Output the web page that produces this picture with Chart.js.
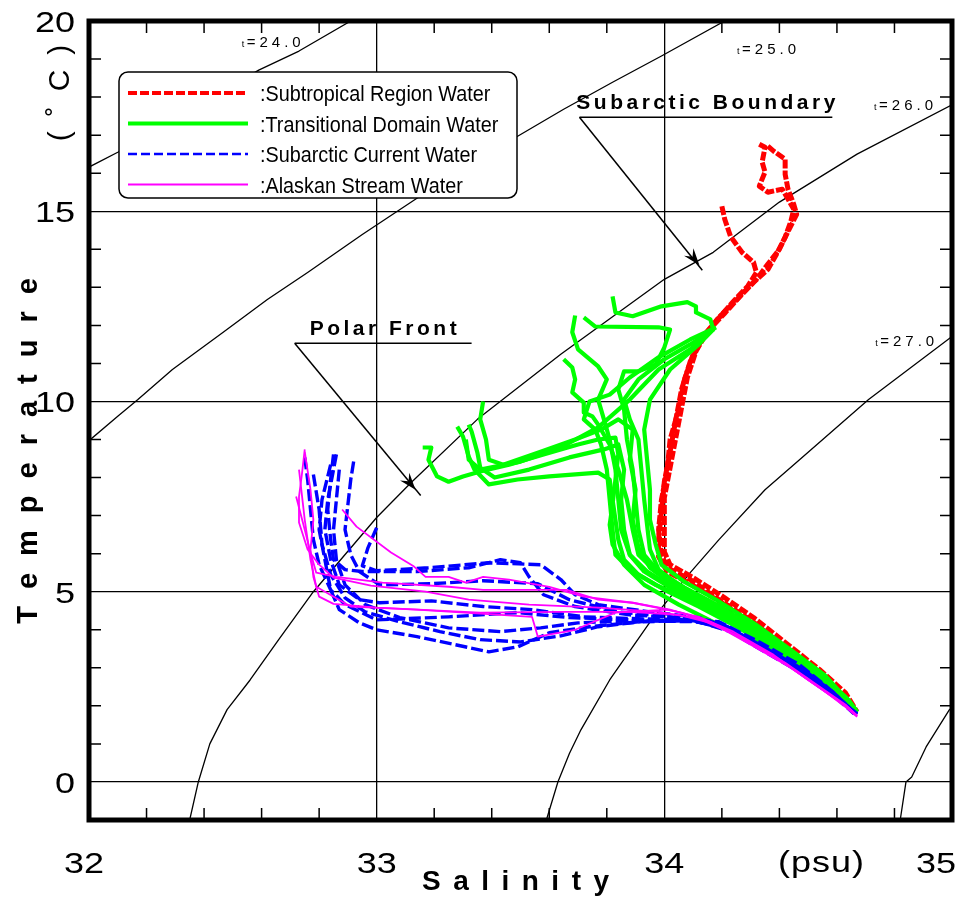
<!DOCTYPE html>
<html>
<head>
<meta charset="utf-8">
<title>T-S diagram</title>
<script src="https://cdn.jsdelivr.net/npm/chart.js@4.4.1/dist/chart.umd.min.js"></script>
<style>
  body { margin: 0; background: #fff; }
  canvas { display: block; }
</style>
</head>
<body>
<canvas id="ts" width="962" height="900"></canvas>
<script>
const FONT = "'Liberation Sans', Arial, sans-serif";

// axis ranges and labelled ticks
const salinityRange = [32, 35];
const tempRange = [-1, 20];
const salinityLabels = [32, 33, 34, 35];
const tempLabels = [0, 5, 10, 15, 20];

// each cast is a list of [salinity (psu), temperature (degC)]
const subtropical1 = [[34.33,16.76],[34.35,16.68],[34.34,16.29],[34.35,16.03],[34.33,15.66],[34.36,15.50],[34.41,15.58],[34.43,15.32],[34.45,15.05],[34.44,14.74],[34.42,14.32],[34.39,13.87],[34.36,13.47],[34.31,13.13],[34.26,12.74],[34.19,12.21],[34.14,11.76],[34.10,11.24],[34.07,10.58],[34.05,9.79],[34.02,9.00],[34.01,8.21],[33.99,7.42],[33.98,6.63],[33.99,5.97],[34.01,5.63],[34.09,5.32],[34.19,4.79],[34.30,4.26],[34.42,3.53],[34.52,2.89],[34.61,2.29],[34.67,1.84]];
const subtropical2 = [[34.36,16.71],[34.38,16.58],[34.42,16.37],[34.42,15.97],[34.43,15.58],[34.45,15.18],[34.46,14.92],[34.43,14.47],[34.40,14.00],[34.36,13.61],[34.32,13.21],[34.27,12.82],[34.21,12.32],[34.15,11.84],[34.11,11.32],[34.08,10.63],[34.06,9.84],[34.04,9.05],[34.02,8.26],[34.00,7.47],[34.00,6.68],[34.00,6.05],[34.02,5.71],[34.10,5.37],[34.21,4.84],[34.31,4.32],[34.43,3.61],[34.54,2.95],[34.63,2.34],[34.67,1.84]];
const subtropical3 = [[34.20,15.13],[34.21,14.79],[34.23,14.34],[34.27,13.92],[34.31,13.66],[34.32,13.39],[34.29,13.03],[34.24,12.63],[34.18,12.11],[34.13,11.63],[34.09,11.05],[34.06,10.32],[34.04,9.53],[34.02,8.68],[34.00,7.89],[33.99,7.11],[33.98,6.37],[33.98,5.92],[34.01,5.53],[34.09,5.21],[34.20,4.71],[34.30,4.18],[34.42,3.47],[34.52,2.82],[34.62,2.24],[34.66,1.82]];

const transitional1 = [[33.16,8.79],[33.19,8.79],[33.18,8.47],[33.21,8.03],[33.25,7.89],[33.30,8.03],[33.36,8.16],[33.46,8.34],[33.58,8.61],[33.70,8.87],[33.77,9.00],[33.83,9.05],[33.84,8.61],[33.83,7.95],[33.82,7.29],[33.81,6.76],[33.82,6.24],[33.86,5.71],[33.93,5.18],[34.05,4.66],[34.19,4.13],[34.33,3.61],[34.47,2.95],[34.57,2.42],[34.67,1.84]];
const transitional2 = [[33.28,9.34],[33.30,9.08],[33.32,8.55],[33.34,8.21],[33.39,7.82],[33.49,7.95],[33.60,8.03],[33.77,8.13],[33.81,7.95],[33.82,7.42],[33.83,6.89],[33.84,6.37],[33.86,5.84],[33.91,5.45],[34.00,5.05],[34.12,4.61],[34.26,4.05],[34.40,3.39],[34.52,2.74],[34.61,2.21],[34.67,1.84]];
const transitional3 = [[33.32,9.39],[33.33,9.21],[33.35,8.66],[33.36,8.26],[33.41,8.00],[33.53,8.21],[33.67,8.53],[33.79,8.74],[33.84,8.87],[33.86,8.21],[33.85,7.42],[33.86,6.63],[33.88,5.97],[33.93,5.53],[34.02,5.11],[34.14,4.66],[34.28,4.05],[34.42,3.34],[34.53,2.68],[34.62,2.18],[34.67,1.84]];
const transitional4 = [[33.37,10.00],[33.36,9.53],[33.38,9.00],[33.39,8.47],[33.44,8.34],[33.57,8.68],[33.69,9.00],[33.78,9.26],[33.84,9.53],[33.89,9.26],[33.88,8.47],[33.90,7.68],[33.89,6.89],[33.91,6.16],[33.95,5.63],[34.03,5.18],[34.16,4.71],[34.30,4.13],[34.43,3.47],[34.54,2.82],[34.63,2.24],[34.67,1.84]];
const transitional5 = [[33.69,12.26],[33.68,11.82],[33.70,11.37],[33.77,10.92],[33.80,10.58],[33.77,10.05],[33.79,9.53],[33.81,9.00],[33.83,8.21],[33.84,7.42],[33.85,6.63],[33.88,5.97],[33.94,5.53],[34.03,5.11],[34.16,4.63],[34.30,4.05],[34.43,3.39],[34.54,2.76],[34.62,2.21],[34.67,1.84]];
const transitional6 = [[33.82,12.76],[33.83,12.34],[33.89,12.24],[33.99,12.50],[34.08,12.61],[34.11,12.50],[34.11,12.34],[34.16,12.16],[34.17,11.89],[34.09,11.50],[34.00,11.11],[33.91,10.58],[33.86,10.05],[33.88,9.53],[33.91,9.00],[33.92,8.21],[33.93,7.42],[33.94,6.76],[33.95,6.11],[33.98,5.58],[34.05,5.18],[34.16,4.71],[34.30,4.13],[34.43,3.42],[34.55,2.76],[34.63,2.21],[34.67,1.84]];
const transitional7 = [[33.72,12.21],[33.76,11.97],[33.98,11.95],[34.02,11.89],[34.00,11.42],[33.97,10.97],[33.91,10.79],[33.86,10.79],[33.84,10.32],[33.86,9.79],[33.87,9.00],[33.89,8.21],[33.90,7.42],[33.91,6.63],[33.93,5.97],[33.98,5.53],[34.07,5.11],[34.19,4.63],[34.32,4.00],[34.45,3.34],[34.56,2.68],[34.64,2.16],[34.67,1.84]];
const transitional8 = [[34.18,11.95],[34.09,11.63],[33.98,11.16],[33.88,10.63],[33.81,10.18],[33.74,10.00],[33.72,9.53],[33.76,9.26],[33.78,8.87],[33.80,8.21],[33.81,7.42],[33.82,6.63],[33.83,5.97],[33.88,5.58],[33.97,5.18],[34.09,4.79],[34.23,4.26],[34.36,3.61],[34.50,2.95],[34.59,2.37],[34.67,1.84]];
const transitional9 = [[33.65,11.11],[33.68,10.89],[33.69,10.58],[33.68,10.24],[33.72,9.97],[33.72,9.71],[33.75,9.61],[33.77,9.39],[33.81,8.87],[33.84,8.21],[33.87,7.42],[33.89,6.63],[33.91,5.97],[33.97,5.53],[34.05,5.13],[34.17,4.66],[34.30,4.08],[34.43,3.42],[34.55,2.76],[34.63,2.21],[34.67,1.84]];
const transitional10 = [[33.31,9.00],[33.32,8.47],[33.36,8.21],[33.50,8.42],[33.64,8.79],[33.77,9.32],[33.88,10.05],[33.98,10.84],[34.09,11.37],[34.17,11.89],[34.12,11.50],[34.02,10.84],[33.95,10.05],[33.93,9.26],[33.94,8.47],[33.95,7.68],[33.95,6.89],[33.97,6.24],[33.99,5.71],[34.07,5.26],[34.18,4.79],[34.31,4.18],[34.44,3.47],[34.56,2.79],[34.63,2.21],[34.67,1.84]];

const subarcticCurrent1 = [[32.85,8.61],[32.84,7.95],[32.83,7.16],[32.84,6.37],[32.85,5.84],[32.89,5.58],[32.95,5.53],[33.14,5.53],[33.32,5.63],[33.43,5.84],[33.50,5.76],[33.53,5.39],[33.58,4.92],[33.69,4.61],[33.88,4.39],[34.05,4.32],[34.19,4.21],[34.33,3.68],[34.47,3.08],[34.57,2.47],[34.66,1.84]];
const subarcticCurrent2 = [[32.92,8.42],[32.91,7.95],[32.90,7.29],[32.89,6.63],[32.91,5.97],[32.94,5.53],[33.01,5.18],[33.19,5.21],[33.37,5.29],[33.56,5.21],[33.67,4.79],[33.84,4.47],[34.05,4.32],[34.19,4.16],[34.33,3.61],[34.47,3.00],[34.57,2.42],[34.66,1.82]];
const subarcticCurrent3 = [[32.86,8.61],[32.85,8.21],[32.83,7.42],[32.82,6.63],[32.84,5.84],[32.87,5.18],[32.94,4.79],[33.01,4.71],[33.19,4.76],[33.37,4.61],[33.54,4.53],[33.72,4.34],[33.91,4.29],[34.09,4.26],[34.21,4.11],[34.34,3.55],[34.48,2.95],[34.58,2.37],[34.66,1.82]];
const subarcticCurrent4 = [[32.75,8.53],[32.76,7.95],[32.77,7.16],[32.78,6.37],[32.80,5.71],[32.84,5.05],[32.89,4.66],[33.00,4.26],[33.25,4.34],[33.49,4.45],[33.67,4.32],[33.88,4.26],[34.09,4.24],[34.21,4.05],[34.35,3.47],[34.49,2.87],[34.58,2.32],[34.66,1.79]];
const subarcticCurrent5 = [[32.84,8.34],[32.81,7.42],[32.80,6.63],[32.82,5.84],[32.84,5.05],[32.87,4.53],[32.94,4.18],[33.00,4.00],[33.14,3.82],[33.39,3.42],[33.49,3.55],[33.60,3.92],[33.74,4.08],[33.91,4.21],[34.10,4.24],[34.22,4.00],[34.36,3.42],[34.50,2.82],[34.59,2.26],[34.67,1.79]];
const subarcticCurrent6 = [[32.87,8.21],[32.86,7.42],[32.85,6.63],[32.86,5.84],[32.89,5.18],[32.96,4.66],[33.08,4.32],[33.25,4.05],[33.43,3.95],[33.57,4.05],[33.70,4.18],[33.88,4.24],[34.12,4.21],[34.23,3.95],[34.36,3.37],[34.50,2.76],[34.60,2.24],[34.67,1.76]];
const subarcticCurrent7 = [[33.00,6.68],[32.97,6.16],[32.95,5.68],[33.00,5.55],[33.18,5.63],[33.39,5.76],[33.57,5.71],[33.64,5.32],[33.69,4.92],[33.77,4.66],[33.95,4.47],[34.12,4.32],[34.22,4.08],[34.35,3.53],[34.49,2.92],[34.59,2.34],[34.66,1.82]];
const subarcticCurrent8 = [[32.78,8.08],[32.80,7.16],[32.81,6.24],[32.84,5.45],[32.89,4.84],[32.96,4.47],[33.08,4.21],[33.22,3.95],[33.36,3.74],[33.50,3.68],[33.64,3.84],[33.77,4.08],[33.95,4.24],[34.12,4.26],[34.23,4.00],[34.36,3.42],[34.50,2.79],[34.60,2.24],[34.67,1.79]];

const alaskanStream1 = [[32.75,8.74],[32.74,8.08],[32.73,7.50],[32.73,6.82],[32.76,6.11],[32.80,5.71],[32.85,5.37],[32.98,5.16],[33.17,5.00],[33.32,4.79],[33.53,4.66],[33.77,4.58],[33.98,4.47],[34.12,4.29],[34.26,3.82],[34.40,3.21],[34.52,2.58],[34.61,2.11],[34.67,1.74]];
const alaskanStream2 = [[32.75,8.68],[32.77,7.68],[32.78,6.89],[32.77,6.11],[32.78,5.39],[32.80,4.87],[32.85,4.68],[33.00,4.58],[33.36,4.45],[33.64,4.47],[33.88,4.47],[34.05,4.39],[34.17,4.16],[34.30,3.61],[34.44,3.00],[34.56,2.37],[34.64,1.95],[34.67,1.74]];
const alaskanStream3 = [[32.88,7.16],[32.93,6.71],[33.05,6.03],[33.13,5.66],[33.17,5.39],[33.25,5.39],[33.31,5.24],[33.37,5.39],[33.46,5.32],[33.60,5.13],[33.72,4.87],[33.89,4.71],[34.02,4.53],[34.14,4.26],[34.28,3.74],[34.42,3.13],[34.54,2.50],[34.63,2.03],[34.67,1.74]];
const alaskanStream4 = [[32.72,7.50],[32.75,6.63],[32.77,6.03],[32.79,5.50],[32.86,5.39],[33.02,5.24],[33.25,5.13],[33.37,5.05],[33.66,5.05],[33.77,4.79],[33.89,4.71],[34.06,4.45],[34.16,4.21],[34.30,3.66],[34.43,3.05],[34.55,2.42],[34.63,1.97],[34.67,1.71]];
const alaskanStream5 = [[32.73,8.21],[32.75,6.89],[32.77,5.84],[32.79,5.13],[32.91,4.61],[33.14,4.53],[33.54,4.34],[33.56,3.82],[33.69,4.00],[33.83,4.45],[34.01,4.53],[34.12,4.34],[34.24,3.95],[34.38,3.34],[34.50,2.68],[34.61,2.11],[34.67,1.74]];

// sigma-t isopycnals
const sigma24 = [[32.00,16.16],[32.10,16.55],[32.35,17.63],[32.59,18.71],[32.73,19.21],[32.91,20.0]];
const sigma25 = [[32.00,8.97],[32.10,9.61],[32.17,10.05],[32.29,10.84],[32.47,11.84],[32.62,12.68],[32.76,13.39],[32.95,14.39],[33.14,15.34],[33.32,16.16],[33.49,16.97],[33.65,17.68],[33.82,18.39],[33.99,19.08],[34.21,20.0]];
const sigma26 = [[32.35,-1],[32.38,0],[32.42,1.0],[32.48,1.9],[32.56,2.68],[32.66,3.75],[32.78,5.0],[33.00,6.95],[33.12,7.87],[33.35,9.53],[33.64,11.24],[34.00,13.21],[34.17,13.92],[34.40,15.24],[34.67,16.5],[35.00,17.8]];
const sigma27 = [[33.59,-1],[33.63,0],[33.67,0.75],[33.71,1.37],[33.81,2.68],[33.95,4.2],[34.09,5.5],[34.19,6.37],[34.35,7.68],[34.47,8.47],[34.71,10.05],[35.00,11.71]];
const sigma28 = [[34.82,-1],[34.84,0],[34.86,0.13],[34.91,0.92],[34.99,1.89],[35.00,1.95]];

const subtropicalProfiles = [subtropical1, subtropical2, subtropical3];
const transitionalProfiles = [transitional1, transitional2, transitional3, transitional4, transitional5,
  transitional6, transitional7, transitional8, transitional9, transitional10];
const subarcticProfiles = [subarcticCurrent1, subarcticCurrent2, subarcticCurrent3, subarcticCurrent4,
  subarcticCurrent5, subarcticCurrent6, subarcticCurrent7, subarcticCurrent8];
const alaskanProfiles = [alaskanStream1, alaskanStream2, alaskanStream3, alaskanStream4, alaskanStream5];
const isopycnals = [sigma24, sigma25, sigma26, sigma27, sigma28];

// labels on the isopycnals: text and [S, T] of the left end of the label
const sigmaLabelText = ['24.0', '25.0', '26.0', '27.0'];
const sigmaLabelAt = [[32.531, 19.32], [34.253, 19.13], [34.729, 17.66], [34.733, 11.45]];

const waterTypes = [
  { name: ':Subtropical Region Water', color: '#ff0000', width: 4, dash: [9, 3] },
  { name: ':Transitional Domain Water', color: '#00ff00', width: 4, dash: [] },
  { name: ':Subarctic Current Water', color: '#0000ff', width: 2.5, dash: [9, 4] },
  { name: ':Alaskan Stream Water', color: '#ff00ff', width: 2, dash: [] }
];

function profileSet(points, color, width, dash) {
  return {
    data: points.map(p => ({ x: p[0], y: p[1] })),
    showLine: true,
    pointRadius: 0,
    borderColor: color,
    borderWidth: width,
    borderDash: dash,
    borderJoinStyle: 'round',
    tension: 0,
    fill: false
  };
}

// first dataset ends up on top
const datasets = [];
alaskanProfiles.forEach(p => datasets.push(profileSet(p, '#ff00ff', 1.8, [])));
subarcticProfiles.forEach(p => datasets.push(profileSet(p, '#0000ff', 3.4, [12, 4])));
transitionalProfiles.forEach(p => datasets.push(profileSet(p, '#00ff00', 4.2, [])));
subtropicalProfiles.forEach(p => datasets.push(profileSet(p, '#ff0000', 5, [9, 2])));
isopycnals.forEach(p => datasets.push(profileSet(p, '#000000', 1.3, [])));

function isMajor(v, step) {
  const r = v / step;
  return Math.abs(r - Math.round(r)) < 1e-6;
}

function spacedText(ctx, text, x, y, font, spacing, sx, align) {
  ctx.save();
  ctx.font = font;
  ctx.fillStyle = '#000';
  ctx.textAlign = 'left';
  ctx.textBaseline = 'alphabetic';
  const chars = Array.from(text);
  let total, widths;
  if (spacing === 0) {
    total = ctx.measureText(text).width * sx;
  } else {
    widths = chars.map(c => ctx.measureText(c).width * sx);
    total = widths.reduce((a, b) => a + b, 0) + spacing * (chars.length - 1);
  }
  let cx = align === 'center' ? x - total / 2 : align === 'right' ? x - total : x;
  if (spacing === 0) {
    ctx.translate(cx, y);
    ctx.scale(sx, 1);
    ctx.fillText(text, 0, 0);
  } else {
    chars.forEach((c, i) => {
      ctx.save();
      ctx.translate(cx, y);
      ctx.scale(sx, 1);
      ctx.fillText(c, 0, 0);
      ctx.restore();
      cx += widths[i] + spacing;
    });
  }
  ctx.restore();
  return total;
}

function drawArrow(ctx, x0, y0, tipX, tipY, endX, endY) {
  ctx.beginPath();
  ctx.moveTo(x0, y0);
  ctx.lineTo(endX, endY);
  ctx.stroke();
  const len = Math.hypot(tipX - x0, tipY - y0);
  const ux = (tipX - x0) / len, uy = (tipY - y0) / len;
  const bx = tipX - ux * 17, by = tipY - uy * 17;
  ctx.beginPath();
  ctx.moveTo(tipX, tipY);
  ctx.lineTo(bx - uy * 6, by + ux * 6);
  ctx.lineTo(tipX - ux * 11, tipY - uy * 11);
  ctx.lineTo(bx + uy * 6, by - ux * 6);
  ctx.closePath();
  ctx.fill();
}

const decor = {
  id: 'decor',
  afterDraw(chart) {
    const ctx = chart.ctx;
    const area = chart.chartArea;
    const xs = chart.scales.x, ys = chart.scales.y;
    const X = v => xs.getPixelForValue(v);
    const Y = v => ys.getPixelForValue(v);
    ctx.save();
    ctx.strokeStyle = '#000';
    ctx.fillStyle = '#000';

    // inward minor ticks on all four sides
    ctx.lineWidth = 1.5;
    ctx.beginPath();
    for (let i = 1; i < 15; i++) {
      const v = salinityRange[0] + i * 0.2;
      if (isMajor(v, 1)) continue;
      const px = X(v);
      ctx.moveTo(px, area.bottom); ctx.lineTo(px, area.bottom - 12);
      ctx.moveTo(px, area.top); ctx.lineTo(px, area.top + 12);
    }
    for (let v = tempRange[0] + 1; v < tempRange[1]; v++) {
      if (isMajor(v, 5)) continue;
      const py = Y(v);
      ctx.moveTo(area.left, py); ctx.lineTo(area.left + 12, py);
      ctx.moveTo(area.right, py); ctx.lineTo(area.right - 12, py);
    }
    ctx.stroke();

    // frame
    ctx.lineWidth = 5;
    ctx.strokeRect(area.left, area.top, area.right - area.left, area.bottom - area.top);

    // tick labels
    const tickFont = '30px ' + FONT;
    tempLabels.forEach(v => spacedText(ctx, String(v), area.left - 14, Y(v) + 11, tickFont, 0, 1.2, 'right'));
    ctx.font = tickFont;
    salinityLabels.forEach(v => {
      let cx = X(v) - (v === salinityLabels[0] ? 5 : 0);
      const w = ctx.measureText(String(v)).width * 1.2;
      if (cx + w / 2 > chart.width - 6) cx = chart.width - 6 - w / 2;
      spacedText(ctx, String(v), cx, area.bottom + 53, tickFont, 0, 1.2, 'center');
    });
    spacedText(ctx, '(psu)', 778, area.bottom + 52, tickFont, 1, 1.2, 'left');

    // axis titles
    spacedText(ctx, 'Salinity', (area.left + area.right) / 2 - 5, area.bottom + 70, 'bold 28px ' + FONT, 12.5, 1, 'center');
    ctx.save();
    ctx.translate(37, 451);
    ctx.rotate(-Math.PI / 2);
    spacedText(ctx, 'Temperature', 0, 0, 'bold 29px ' + FONT, 17, 1, 'center');
    ctx.restore();
    ctx.save();
    ctx.translate(69, 93);
    ctx.rotate(-Math.PI / 2);
    spacedText(ctx, '(˚C)', 0, 0, '30px ' + FONT, 15, 1, 'center');
    ctx.restore();

    // isopycnal labels
    sigmaLabelText.forEach((txt, i) => {
      const lx = X(sigmaLabelAt[i][0]), ly = Y(sigmaLabelAt[i][1]);
      spacedText(ctx, 't', lx, ly, '9px ' + FONT, 0, 1, 'left');
      spacedText(ctx, '=' + txt, lx + 5, ly, '15px ' + FONT, 4, 1, 'left');
    });

    // front annotations
    const boldAnn = 'bold 21px ' + FONT;
    ctx.lineWidth = 1.5;
    spacedText(ctx, 'Subarctic Boundary', X(33.694), Y(17.68), boldAnn, 3.5, 1, 'left');
    ctx.beginPath();
    ctx.moveTo(X(33.705), Y(17.47)); ctx.lineTo(X(34.584), Y(17.47));
    ctx.stroke();
    drawArrow(ctx, X(33.705), Y(17.47), X(34.122), Y(13.58), X(34.132), Y(13.45));

    spacedText(ctx, 'Polar Front', X(32.767), Y(11.76), boldAnn, 3.5, 1, 'left');
    ctx.beginPath();
    ctx.moveTo(X(32.715), Y(11.53)); ctx.lineTo(X(33.33), Y(11.53));
    ctx.stroke();
    drawArrow(ctx, X(32.715), Y(11.53), X(33.135), Y(7.68), X(33.153), Y(7.53));

    // legend box
    const lx = area.left + 30, ly = area.top + 51, lw = 398, lh = 126, r = 9;
    ctx.beginPath();
    ctx.moveTo(lx + r, ly);
    ctx.arcTo(lx + lw, ly, lx + lw, ly + lh, r);
    ctx.arcTo(lx + lw, ly + lh, lx, ly + lh, r);
    ctx.arcTo(lx, ly + lh, lx, ly, r);
    ctx.arcTo(lx, ly, lx + lw, ly, r);
    ctx.closePath();
    ctx.fillStyle = '#fff';
    ctx.fill();
    ctx.lineWidth = 1.5;
    ctx.strokeStyle = '#000';
    ctx.stroke();
    waterTypes.forEach((w, i) => {
      const rowY = ly + 21 + i * 30.5;
      ctx.save();
      ctx.strokeStyle = w.color;
      ctx.lineWidth = w.width;
      ctx.setLineDash(w.dash);
      ctx.beginPath();
      ctx.moveTo(lx + 9, rowY); ctx.lineTo(lx + 129, rowY);
      ctx.stroke();
      ctx.restore();
      spacedText(ctx, w.name, lx + 141, rowY + 8, '22px ' + FONT, 0, 0.9, 'left');
    });
    ctx.restore();
  }
};

new Chart(document.getElementById('ts'), {
  type: 'scatter',
  data: { datasets },
  options: {
    responsive: false,
    animation: false,
    devicePixelRatio: 1,
    layout: { padding: { left: 89, right: 10, top: 21, bottom: 80 } },
    plugins: { legend: { display: false }, tooltip: { enabled: false } },
    scales: {
      x: {
        type: 'linear',
        min: salinityRange[0],
        max: salinityRange[1],
        z: 1,
        ticks: { display: false, stepSize: 1 },
        grid: { drawTicks: false, lineWidth: 1.3, color: c => isMajor(c.tick.value, 1) ? '#000' : 'rgba(0,0,0,0)' },
        border: { display: false },
        afterFit: s => { s.height = 0; }
      },
      y: {
        type: 'linear',
        min: tempRange[0],
        max: tempRange[1],
        z: 1,
        ticks: { display: false, stepSize: 1 },
        grid: { drawTicks: false, lineWidth: 1.3, color: c => isMajor(c.tick.value, 5) ? '#000' : 'rgba(0,0,0,0)' },
        border: { display: false },
        afterFit: s => { s.width = 0; }
      }
    }
  },
  plugins: [decor]
});
</script>
</body>
</html>
